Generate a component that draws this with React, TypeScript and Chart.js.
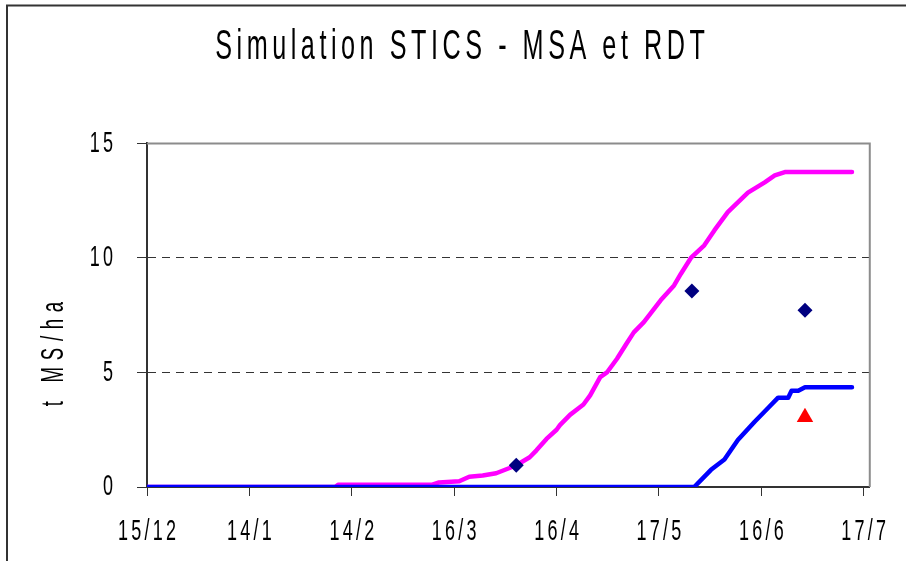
import { useEffect, useRef } from "react";
import { Chart, registerables } from "chart.js";

Chart.register(...registerables);

// Days counted from 15/12
const tickDays = [0, 30.5, 61, 91.5, 122, 152.5, 183, 213.5];
const tickLabels = ["15/12", "14/1", "14/2", "16/3", "16/4", "17/5", "16/6", "17/7"];
const yTickValues = [0, 5, 10, 15];

// Simulated MSA (magenta)
const msaDays = [0, 56, 57, 85, 87, 93, 96, 100, 104, 108, 110, 114, 116, 119, 122, 123, 126, 130, 132, 135, 137, 140, 143, 145, 148, 153, 157, 159, 162, 166, 169, 173, 179, 184, 187, 190, 210];
const msaValues = [0, 0, 0.1, 0.1, 0.2, 0.25, 0.45, 0.5, 0.6, 0.83, 0.95, 1.3, 1.6, 2.1, 2.5, 2.7, 3.15, 3.6, 4.0, 4.8, 5.0, 5.6, 6.3, 6.75, 7.2, 8.15, 8.8, 9.3, 10.0, 10.55, 11.2, 12.0, 12.85, 13.3, 13.6, 13.75, 13.75];

// Simulated RDT (blue)
const rdtDays = [0, 163, 168, 172, 176, 181, 185, 188, 191, 192, 194, 196, 210];
const rdtValues = [0, 0, 0.75, 1.2, 2.05, 2.85, 3.45, 3.9, 3.9, 4.2, 4.2, 4.35, 4.35];

// Observations
const obsMsaDays = [110, 162.3, 196];
const obsMsaValues = [0.95, 8.56, 7.72];
const obsRdtDays = [196];
const obsRdtValues = [3.05];

const titleText = "Simulation STICS - MSA et RDT";
const yAxisLabel = "t MS/ha";

const FONT = '"Liberation Sans", Arial, sans-serif';
const SCALE_X = 0.6;
const SPACING_EM = 0.18;

const toPoints = (xs: number[], ys: number[]) => xs.map((x, i) => ({ x, y: ys[i] }));

// Condensed, letter-spaced text rendering (Excel-like horizontally squeezed font)
function patchContext(ctx: any) {
  if (ctx.__patched) return;
  ctx.__patched = true;
  const origFill = ctx.fillText.bind(ctx);
  const origMeasure = ctx.measureText.bind(ctx);
  const fontSize = () => {
    const m = /(\d+(?:\.\d+)?)px/.exec(ctx.font);
    return m ? parseFloat(m[1]) : 12;
  };
  const spacing = () => (ctx.__lsEm != null ? ctx.__lsEm : SPACING_EM) * fontSize();
  ctx.fillText = function (text: string, x: number, y: number) {
    const ls = spacing();
    const align = ctx.textAlign;
    let off = 0;
    if (align === "center") off = ls / 2;
    else if (align === "right" || align === "end") off = ls;
    ctx.save();
    ctx.translate(x, y);
    ctx.scale(SCALE_X, 1);
    try {
      ctx.letterSpacing = ls + "px";
    } catch (e) {}
    origFill(text, off, 0);
    ctx.restore();
  };
  ctx.measureText = function (text: string) {
    const m = origMeasure(text);
    const ls = spacing();
    return {
      width: (m.width + String(text).length * ls) * SCALE_X,
      actualBoundingBoxAscent: m.actualBoundingBoxAscent,
      actualBoundingBoxDescent: m.actualBoundingBoxDescent,
      actualBoundingBoxLeft: m.actualBoundingBoxLeft * SCALE_X,
      actualBoundingBoxRight: m.actualBoundingBoxRight * SCALE_X,
    };
  };
}

const decorPlugin = {
  id: "decor",
  beforeDraw(chart: any) {
    const ctx = chart.ctx;
    ctx.save();
    ctx.fillStyle = "#ffffff";
    ctx.fillRect(0, 0, chart.width, chart.height);
    ctx.strokeStyle = "#333333";
    ctx.lineWidth = 2;
    ctx.beginPath();
    ctx.moveTo(7, chart.height + 2);
    ctx.lineTo(7, 5.5);
    ctx.lineTo(chart.width + 2, 5.5);
    ctx.stroke();
    ctx.restore();
  },
  beforeDatasetsDraw(chart: any) {
    const ctx = chart.ctx;
    const a = chart.chartArea;
    ctx.save();
    ctx.strokeStyle = "#8c8c8c";
    ctx.lineWidth = 2;
    ctx.beginPath();
    ctx.moveTo(a.left, a.top);
    ctx.lineTo(a.right, a.top);
    ctx.lineTo(a.right, a.bottom);
    ctx.stroke();
    ctx.restore();
  },
  afterDraw(chart: any) {
    const ctx = chart.ctx;
    ctx.save();
    ctx.translate(63, 354);
    ctx.rotate(-Math.PI / 2);
    ctx.font = `31px ${FONT}`;
    ctx.fillStyle = "#000";
    ctx.textAlign = "center";
    ctx.textBaseline = "alphabetic";
    ctx.__lsEm = 0.36;
    ctx.fillText(yAxisLabel, 0, 0);
    ctx.__lsEm = null;
    ctx.restore();
  },
};

export default function App() {
  const ref = useRef<HTMLCanvasElement>(null);

  useEffect(() => {
    if (!ref.current) return;
    const c2d = ref.current.getContext("2d");
    patchContext(c2d);
    Chart.defaults.font.family = FONT;
    const chart = new Chart(ref.current, {
      type: "line",
      data: {
        datasets: [
          {
            label: "MSA obs",
            data: toPoints(obsMsaDays, obsMsaValues),
            showLine: false,
            pointStyle: "rectRot",
            pointRadius: 7.5,
            pointBackgroundColor: "#000080",
            pointBorderColor: "#000080",
            pointBorderWidth: 0,
          },
          {
            label: "RDT obs",
            data: toPoints(obsRdtDays, obsRdtValues),
            showLine: false,
            pointStyle: "triangle",
            pointRadius: 9.5,
            pointBackgroundColor: "#ff0000",
            pointBorderColor: "#ff0000",
            pointBorderWidth: 0,
          },
          {
            label: "RDT sim",
            data: toPoints(rdtDays, rdtValues),
            borderColor: "#0000ff",
            borderWidth: 4.5,
            pointRadius: 0,
            tension: 0,
            borderJoinStyle: "round",
            borderCapStyle: "round",
          },
          {
            label: "MSA sim",
            data: toPoints(msaDays, msaValues),
            borderColor: "#ff00ff",
            borderWidth: 4.5,
            pointRadius: 0,
            tension: 0,
            borderJoinStyle: "round",
            borderCapStyle: "round",
          },
        ],
      },
      options: {
        animation: false,
        responsive: false,
        events: [],
        layout: { padding: { left: 46, right: 32, top: 0, bottom: 0 } },
        plugins: {
          legend: { display: false },
          tooltip: { enabled: false },
          title: {
            display: true,
            text: titleText,
            color: "#000",
            font: { family: FONT, size: 42, weight: "normal" },
            padding: { top: 22, bottom: 71 },
          },
        },
        scales: {
          x: {
            type: "linear",
            min: 0,
            max: 215.3,
            afterFit: (s: any) => {
              s.height = 74;
            },
            afterBuildTicks: (s: any) => {
              s.ticks = tickDays.map((v) => ({ value: v }));
            },
            ticks: {
              autoSkip: false,
              maxRotation: 0,
              color: "#000",
              padding: 18,
              font: { family: FONT, size: 30 },
              callback: (_v: any, i: number) => tickLabels[i],
            },
            grid: {
              drawOnChartArea: false,
              drawTicks: true,
              tickLength: 9,
              tickColor: "#333",
              tickWidth: 1,
            },
            border: { display: true, color: "#333", width: 2 },
          },
          y: {
            type: "linear",
            min: 0,
            max: 15,
            afterFit: (s: any) => {
              s.width = 101;
            },
            afterBuildTicks: (s: any) => {
              s.ticks = yTickValues.map((v) => ({ value: v }));
            },
            ticks: {
              color: "#000",
              padding: 24,
              font: { family: FONT, size: 30 },
              callback: (v: any) => String(v),
            },
            grid: {
              color: (c: any) =>
                c.tick && (c.tick.value === 5 || c.tick.value === 10) ? "#333" : "rgba(0,0,0,0)",
              lineWidth: 1,
              drawTicks: true,
              tickLength: 10,
              tickColor: "#333",
              tickWidth: 1,
            },
            border: { display: true, color: "#333", width: 2, dash: [8, 6] },
          },
        },
      },
      plugins: [decorPlugin],
    } as any);
    return () => chart.destroy();
  }, []);

  return (
    <div style={{ position: "fixed", left: 0, top: 0, width: 906, height: 561, background: "#fff" }}>
      <canvas ref={ref} width={906} height={561} style={{ display: "block" }} />
    </div>
  );
}
